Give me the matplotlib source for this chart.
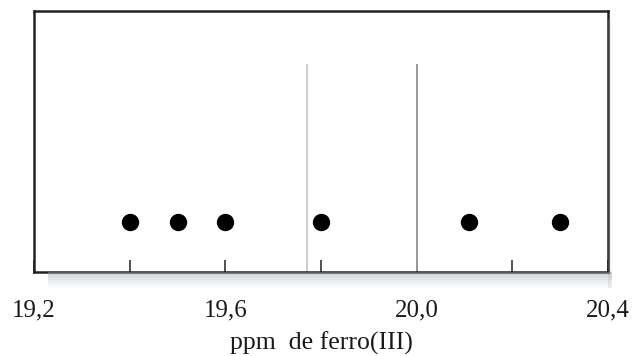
import matplotlib
matplotlib.use("Agg")
import matplotlib.pyplot as plt
from matplotlib.patches import Rectangle

# Data
points_x = [19.4, 19.5, 19.6, 19.8, 20.11, 20.3]
line_light_x = 19.77
line_dark_x = 20.0
major_ticks = [19.2, 19.6, 20.0, 20.4]
major_labels = ["19,2", "19,6", "20,0", "20,4"]
minor_ticks = [19.4, 19.8, 20.2]
xlabel = "ppm  de ferro(III)"

plt.rcParams['font.family'] = ['Liberation Serif', 'DejaVu Serif']

fig = plt.figure(figsize=(6.32, 3.56), dpi=100)
L, B, W, H = 34/632, 1-272/356, (608-34)/632, (272-11)/356

# drop shadow (bottom and right)
for i in range(8):
    a = 0.12 - i*0.013
    fig.patches.append(Rectangle((L + 14/632, B - (2+2*i)/356), W - 10/632, (2+2*i)/356,
                                 transform=fig.transFigure, facecolor='#9aa0a6',
                                 alpha=max(a, 0.01), edgecolor='none', zorder=0))
for i in range(3):
    fig.patches.append(Rectangle((L + W, B - 16/356), (1.5+1.5*i)/632, H + 8/356,
                                 transform=fig.transFigure, facecolor='#9aa0a6',
                                 alpha=0.08, edgecolor='none', zorder=0))

ax = fig.add_axes([L, B, W, H])
ax.set_facecolor('white')
ax.set_xlim(19.2, 20.4)
ax.set_ylim(0, 1)

ax.plot([line_light_x, line_light_x], [0, 0.797], color='#cfcfcf', lw=1.6, solid_capstyle='butt')
ax.plot([line_dark_x, line_dark_x], [0, 0.797], color='#9a9a9a', lw=1.4, solid_capstyle='butt')
ax.plot(points_x, [0.19]*len(points_x), 'o', color='black', markersize=11.5, linestyle='none')

for s in ax.spines.values():
    s.set_linewidth(1.8)
    s.set_color('#222222')

ax.set_xticks(major_ticks)
ax.set_xticklabels(major_labels)
ax.set_xticks(minor_ticks, minor=True)
ax.tick_params(axis='x', which='both', direction='in', length=9, width=1.1,
               color='#222222', labelsize=18, labelcolor='#1a1a1a', pad=20)
ax.set_yticks([])

fig.text(321/632, 1-343/356, xlabel, ha='center', va='center', fontsize=18.5, color='#1a1a1a')

fig.savefig("out.png", dpi=100)
